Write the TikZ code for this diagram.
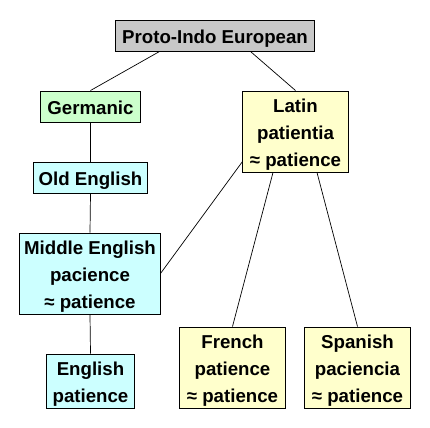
\documentclass[tikz,border=0pt]{standalone}
\usepackage{fontspec}
\setmainfont{Liberation Sans}
\usetikzlibrary{calc}
\definecolor{pgrey}{RGB}{200,200,200}
\definecolor{pgreen}{RGB}{204,255,204}
\definecolor{pyellow}{RGB}{255,255,204}
\definecolor{pcyan}{RGB}{204,255,255}
\newcommand\tstr{\rule{0pt}{19.5bp}}
\newcommand\bstr{\rule[-4bp]{0pt}{4bp}}
\newcommand\sstr{\rule[-4bp]{0pt}{23.2bp}}
\tikzset{
  lbox/.style={draw=black, line width=1bp, inner sep=0pt, align=center,
    font=\fontsize{18.67bp}{27bp}\selectfont\bfseries},
  link/.style={draw=black, line width=0.7bp},
}
\begin{document}
\begin{tikzpicture}[x=1bp,y=-1bp]
\useasboundingbox[fill=white] (0,0) rectangle (430,428);
\node[lbox, fill=pgrey, minimum width=198bp, minimum height=31bp] (proto) at (215,35.5) {\sstr Proto-Indo European};
\node[lbox, fill=pgreen, minimum width=99bp, minimum height=31bp] (germ) at (90.5,106.5) {\sstr Germanic};
\node[lbox, fill=pyellow, minimum width=105bp, minimum height=81bp] (latin) at (295.5,131.5) {\tstr Latin\\patientia\\≈ patience\bstr};
\node[lbox, fill=pcyan, minimum width=113bp, minimum height=31bp] (old) at (90.5,177.5) {\sstr Old English};
\node[lbox, fill=pcyan, minimum width=140bp, minimum height=81bp] (mid) at (90,273.5) {\tstr Middle English\\pacience\\≈ patience\bstr};
\node[lbox, fill=pcyan, minimum width=87bp, minimum height=54bp] (eng) at (90.5,381) {\tstr English\\patience\bstr};
\node[lbox, fill=pyellow, minimum width=105bp, minimum height=81bp] (french) at (232.5,367.5) {\tstr French\\patience\\≈ patience\bstr};
\node[lbox, fill=pyellow, minimum width=105bp, minimum height=81bp] (spanish) at (357.5,367.5) {\tstr Spanish\\paciencia\\≈ patience\bstr};
\path[link] ($(proto.south west)+(44,0)$) -- (germ.north);
\path[link] ($(proto.south west)+(135,0)$) -- (latin.north);
\path[link] (germ.south) -- (old.north);
\path[link] (old.south) -- (mid.north);
\path[link] (mid.south) -- (eng.north);
\path[link] ($(latin.south west)+(0,-11)$) -- (mid.east);
\path[link] ($(latin.south)+(-22.5,0)$) -- (french.north);
\path[link] ($(latin.south)+(21.5,0)$) -- (spanish.north);
\end{tikzpicture}
\end{document}
